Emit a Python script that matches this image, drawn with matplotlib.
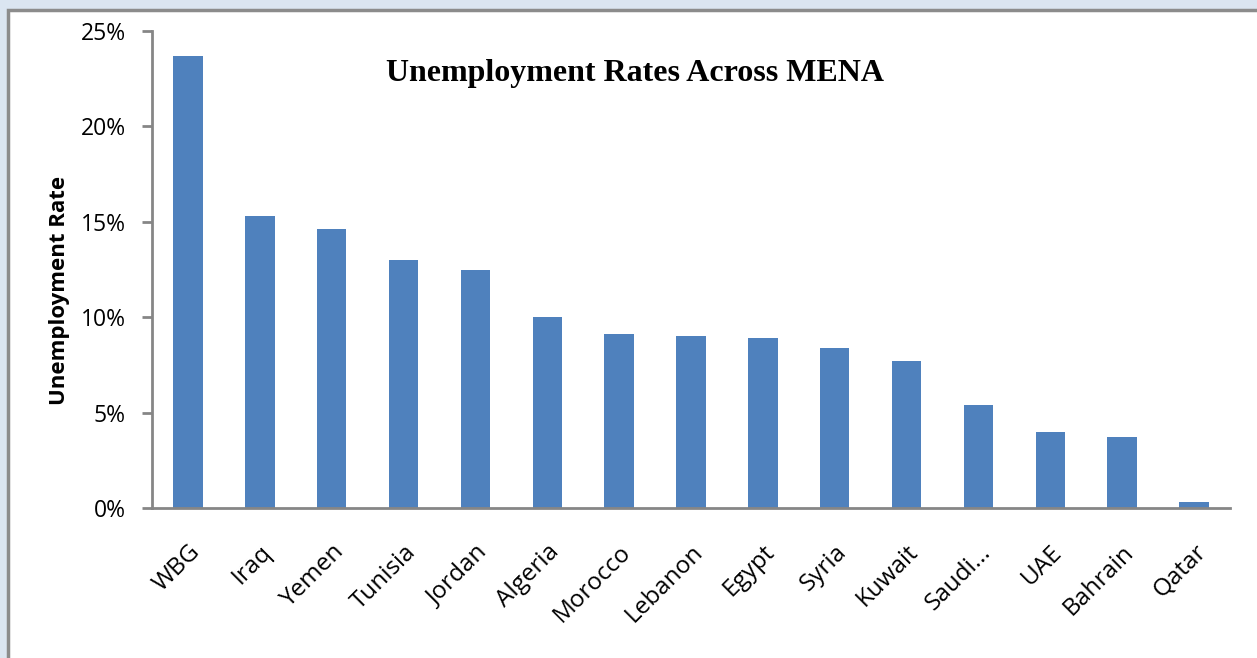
import matplotlib
matplotlib.use("Agg")
import matplotlib.pyplot as plt
from matplotlib.patches import Rectangle
from matplotlib.ticker import FuncFormatter

countries = ["WBG", "Iraq", "Yemen", "Tunisia", "Jordan", "Algeria", "Morocco",
             "Lebanon", "Egypt", "Syria", "Kuwait", "Saudi...", "UAE", "Bahrain", "Qatar"]
rates = [23.7, 15.3, 14.6, 13.0, 12.5, 10.0, 9.1, 9.0, 8.9, 8.4, 7.7, 5.4, 4.0, 3.7, 0.3]
yticks = [0, 5, 10, 15, 20, 25]

W, H = 1257, 658
fig = plt.figure(figsize=(W / 100, H / 100), dpi=100)
fig.patch.set_facecolor("#dbe5f1")

# white chart area with gray border
fig.patches.append(Rectangle((8 / W, -0.01), 1.0, 1 - 10 / H + 0.01, transform=fig.transFigure,
                             facecolor="white", edgecolor="#8c8c8c", linewidth=2.5, zorder=-5))

ax = fig.add_axes([152 / W, 1 - 508 / H, (1230 - 152) / W, (508 - 31) / H])
ax.set_facecolor("none")
x = list(range(len(countries)))
ax.bar(x, rates, width=0.41, color="#4f81bd", zorder=2)
ax.set_xlim(-0.5, len(countries) - 0.5)
ax.set_ylim(0, 25)
ax.set_yticks(yticks)
ax.yaxis.set_major_formatter(FuncFormatter(lambda v, p: f"{v:.0f}%"))
ax.set_xticks(x)
ax.set_xticklabels(countries, rotation=45, ha="right", rotation_mode="anchor",
                   fontsize=17.5, family=["Open Sans", "DejaVu Sans"])
for lab in ax.get_yticklabels():
    lab.set_fontsize(16.5)
    lab.set_family(["Open Sans", "DejaVu Sans"])

for s in ["top", "right"]:
    ax.spines[s].set_visible(False)
for s in ["left", "bottom"]:
    ax.spines[s].set_color("#868686")
    ax.spines[s].set_linewidth(2)
ax.tick_params(axis="y", direction="out", length=7, width=2, color="#868686", pad=12)
ax.tick_params(axis="x", length=0, pad=23)

fig.text(60 / W, 1 - 290 / H, "Unemployment Rate", rotation=90, ha="center", va="center",
         fontsize=16, fontweight="bold", family=["Open Sans", "DejaVu Sans"])

fig.text(635 / W, 1 - 73 / H, "Unemployment Rates Across MENA", ha="center", va="center",
         fontsize=23, fontweight="bold", family=["Liberation Serif", "DejaVu Serif"])

fig.savefig("out.png", dpi=100, facecolor=fig.get_facecolor())
